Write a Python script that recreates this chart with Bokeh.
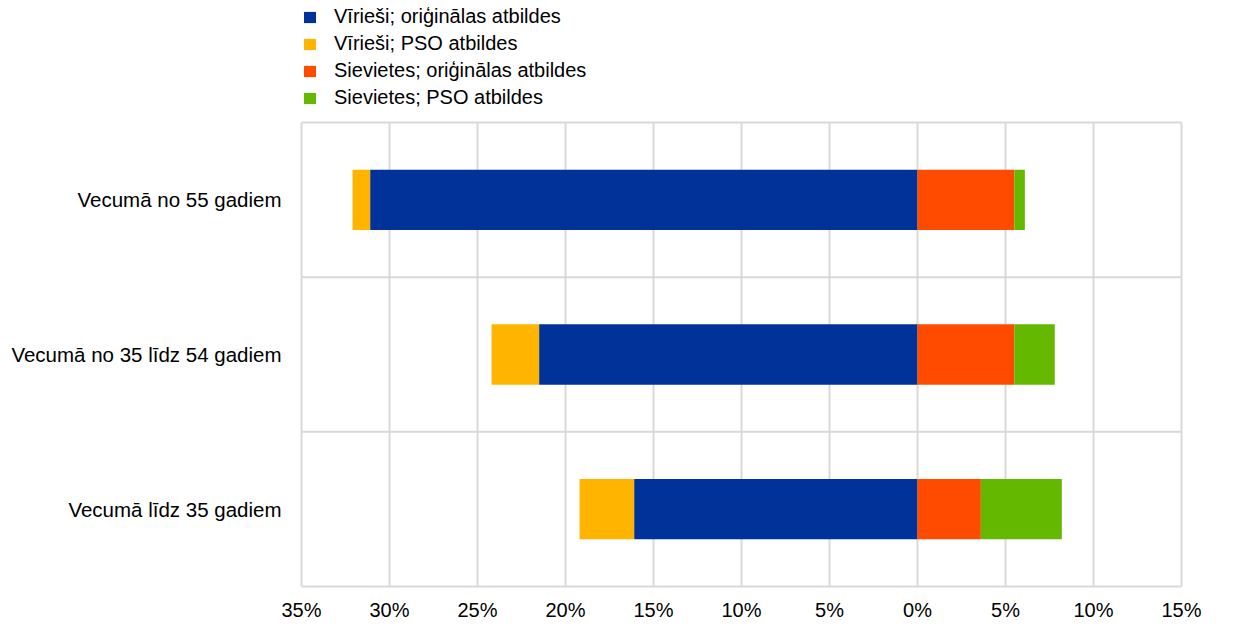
from bokeh.plotting import figure
from bokeh.models import FixedTicker, Legend, LegendItem, Range1d, ColumnDataSource
from bokeh.embed import file_html
from bokeh.resources import INLINE

# Age groups, bottom to top
groups = ["Vecumā līdz 35 gadiem", "Vecumā no 35 līdz 54 gadiem", "Vecumā no 55 gadiem"]

# Shares in percent (men drawn to the left of zero, women to the right)
men_original = [16.1, 21.5, 31.1]
men_pso = [3.1, 2.7, 1.0]
women_original = [3.6, 5.5, 5.5]
women_pso = [4.6, 2.3, 0.6]

series_names = [
    "Vīrieši; oriģinālas atbildes",
    "Vīrieši; PSO atbildes",
    "Sievietes; oriģinālas atbildes",
    "Sievietes; PSO atbildes",
]
colors = ["#003299", "#FFB400", "#FF4B00", "#65B800"]

tick_values = [-35, -30, -25, -20, -15, -10, -5, 0, 5, 10, 15]
tick_labels = ["35%", "30%", "25%", "20%", "15%", "10%", "5%", "0%", "5%", "10%", "15%"]

FONT = "Liberation Sans"
GRID = "#d9d9d9"

n = len(groups)
ypos = [i + 0.5 for i in range(n)]

# Stacked segments: (left, right) for each series
segments = [
    ([-m for m in men_original], [0] * n),
    ([-(m + p) for m, p in zip(men_original, men_pso)], [-m for m in men_original]),
    ([0] * n, list(women_original)),
    (list(women_original), [w + p for w, p in zip(women_original, women_pso)]),
]

# Pixel scale of the chart area; the frame is padded so that the outer grid
# lines are fully visible and the legend sits inside the frame above the bars.
PX_PER_PCT = 17.6
PX_PER_BAND = 154.67
PAD_X, PAD_BOTTOM, LEGEND_SPACE = 4, 2, 122

x_start = tick_values[0] - PAD_X / PX_PER_PCT
x_end = tick_values[-1] + PAD_X / PX_PER_PCT
y_start = -PAD_BOTTOM / PX_PER_BAND
y_end = n + LEGEND_SPACE / PX_PER_BAND

p = figure(
    width=1240, height=631,
    x_range=Range1d(x_start, x_end), y_range=Range1d(y_start, y_end),
    output_backend="svg", toolbar_location=None,
    min_border_left=297, min_border_right=55,
    min_border_top=0, min_border_bottom=43,
)
p.outline_line_color = None
p.background_fill_color = "white"
p.border_fill_color = "white"
p.xgrid.visible = False
p.ygrid.visible = False

# Grid: vertical lines at every tick, horizontal lines between the age bands
p.segment(x0=tick_values, y0=[0] * len(tick_values),
          x1=tick_values, y1=[n] * len(tick_values),
          line_color=GRID, line_width=2)
p.segment(x0=[tick_values[0]] * (n + 1), y0=list(range(n + 1)),
          x1=[tick_values[-1]] * (n + 1), y1=list(range(n + 1)),
          line_color=GRID, line_width=2)

renderers = []
for (left, right), color in zip(segments, colors):
    src = ColumnDataSource(dict(y=ypos, left=left, right=right))
    r = p.hbar(y="y", left="left", right="right", height=0.39, source=src,
               fill_color=color, line_color=None)
    renderers.append(r)

# X axis: absolute percentages on both sides of zero
p.xaxis.ticker = FixedTicker(ticks=tick_values)
p.xaxis.major_label_overrides = {v: lbl for v, lbl in zip(tick_values, tick_labels)}
p.xaxis.axis_line_color = None
p.xaxis.major_tick_line_color = None
p.xaxis.minor_tick_line_color = None
p.xaxis.major_tick_out = 0
p.xaxis.major_label_standoff = 10
p.xaxis.major_label_text_font = FONT
p.xaxis.major_label_text_font_size = "20px"
p.xaxis.major_label_text_color = "#000000"

# Y axis: group names centred in each band
p.yaxis.ticker = FixedTicker(ticks=ypos)
p.yaxis.major_label_overrides = {y: g for y, g in zip(ypos, groups)}
p.yaxis.axis_line_color = None
p.yaxis.major_tick_line_color = None
p.yaxis.minor_tick_line_color = None
p.yaxis.major_tick_out = 0
p.yaxis.major_label_standoff = 16
p.yaxis.major_label_text_font = FONT
p.yaxis.major_label_text_font_size = "20.5px"
p.yaxis.major_label_text_color = "#000000"

legend = Legend(
    items=[LegendItem(label=s, renderers=[r]) for s, r in zip(series_names, renderers)],
    location=(5, 479),
    orientation="vertical",
    glyph_width=15, glyph_height=14,
    label_height=23, spacing=4,
    label_standoff=17,
    padding=0, margin=0,
    border_line_color=None,
    background_fill_alpha=0,
    label_text_font=FONT,
    label_text_font_size="20px",
    label_text_color="#000000",
)
p.add_layout(legend)

open("out.html", "w").write(file_html(p, INLINE))
